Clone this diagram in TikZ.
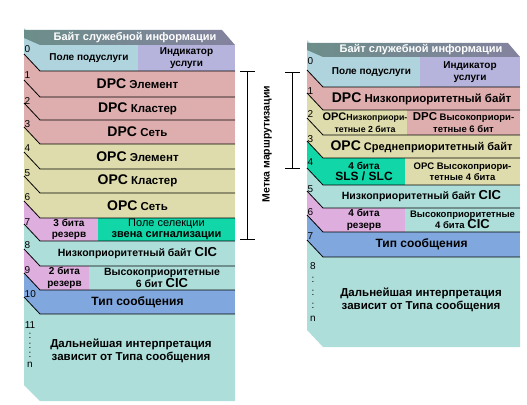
\documentclass[tikz,border=0pt]{standalone}
\usepackage{fontspec}
\setmainfont{Liberation Sans}
\usetikzlibrary{positioning}
\definecolor{hdrA}{HTML}{6C8E8A}
\definecolor{hdrB}{HTML}{84829E}
\definecolor{subsvc}{HTML}{B0D4DE}
\definecolor{indic}{HTML}{B6B4DC}
\definecolor{dpc}{HTML}{DEAEAE}
\definecolor{opc}{HTML}{DEDCAC}
\definecolor{rsv}{HTML}{DEAEDE}
\definecolor{sls}{HTML}{10D6A8}
\definecolor{cic}{HTML}{AEDEDA}
\definecolor{msg}{HTML}{80A8DE}
\newcommand\pc[2][14]{{\fontsize{#1}{#1}\selectfont #2}}

\begin{document}
\begin{tikzpicture}[x=1pt,y=-1pt,
  cell/.style={align=center,inner sep=0pt,text=black},
  num/.style={anchor=north west,inner sep=0.5pt,font=\fontsize{10}{10}\selectfont},
  sep/.style={line width=0.8pt},
  hdr/.style={left color=hdrA,right color=hdrB},
  hdrtext/.style={text=white,font=\bfseries\fontsize{11}{11}\selectfont}]
  \useasboundingbox (0,0) rectangle (527,404);
  \foreach \t/\b/\c in {45/71/subsvc, 71/97/dpc, 97/120/dpc, 120/144/dpc, 144/169/opc, 169/193/opc, 193/218/opc, 218/241/rsv, 241/266/cic, 266/290/rsv, 290/314/msg}
    \fill[\c] (24,\t-17) -- (40,\t) -- (40,\b) -- (24,\b-17) -- cycle;
  \fill[cic] (24,297) -- (40,314) -- (235,314) -- (235,401) -- (40,401) -- (24,385) -- cycle;
  \shade[hdr] (24,30) -- (222,30) -- (235,45) -- (40,45) -- (24,38) -- cycle;
  \node[hdrtext] (lhdr) at (135,38) {Байт служебной информации};
  \foreach \xa/\ya/\xb/\yb/\c/\f/\n/\txt in {
    40/45/138/71/subsvc/10/l0a/Поле подуслуги,
    138/45/235/71/indic/10/l0b/{Индикатор\\услуги},
    40/71/235/97/dpc/11.5/l1/{\pc{DPC} Элемент},
    40/97/235/120/dpc/11.5/l2/{\pc{DPC} Кластер},
    40/120/235/144/dpc/11.5/l3/{\pc{DPC} Сеть},
    40/144/235/169/opc/11.5/l4/{\pc{OPC} Элемент},
    40/169/235/193/opc/11.5/l5/{\pc{OPC} Кластер},
    40/193/235/218/opc/11.5/l6/{\pc{OPC} Сеть},
    40/218/98/241/rsv/10/l7a/{3 бита\\резерв},
    98/218/235/241/sls/11/l7b/{\mdseries Поле селекции\\звена сигнализации},
    40/241/235/266/cic/10.5/l8/{Низкоприоритетный байт \pc[13]{CIC}},
    40/266/89/290/rsv/10/l9a/{2 бита\\резерв},
    89/266/235/290/cic/10.5/l9b/{Высокоприоритетные\\6 бит \pc[13]{CIC}},
    40/290/235/314/msg/12/l10/Тип сообщения}
    \fill[fill=\c] (\xa,\ya) rectangle node[cell,font=\bfseries\fontsize{\f}{11.5}\selectfont] (\n) {\txt} (\xb,\yb);
  \foreach \t in {71,97,120,144,169,193,218,241,266,290,314}
    \draw[sep] (24,\t-17) -- (40,\t) -- (235,\t);
  \foreach \t/\k in {45/0, 71/1, 97/2, 120/3, 144/4, 169/5, 193/6, 218/7, 241/8, 266/9, 290/10}
    \node[num] (ln\k) at (24,\t) {\k};
  \node[num,anchor=north,align=center,font=\fontsize{10}{9.75}\selectfont] (lnn) at (30,321) {11\\:\\:\\:\\n};
  \node[cell,font=\bfseries\fontsize{11.5}{13}\selectfont] (lrest) at (131,351) {Дальнейшая интерпретация\\зависит от Типа сообщения};

  \foreach \t/\b/\c in {57/87/subsvc, 87/110/dpc, 110/135/opc, 135/158/opc, 158/185/sls, 185/208/cic, 208/232/rsv, 232/257/msg}
    \fill[\c] (307,\t-17) -- (323,\t) -- (323,\b) -- (307,\b-17) -- cycle;
  \fill[cic] (307,240) -- (323,257) -- (520,257) -- (520,347) -- (323,347) -- (307,330) -- cycle;
  \shade[hdr] (307,43) -- (508,43) -- (520,57) -- (323,57) -- (307,50) -- cycle;
  \node[hdrtext] (rhdr) at (421,50) {Байт служебной информации};
  \foreach \xa/\ya/\xb/\yb/\c/\f/\n/\txt in {
    323/57/420/87/subsvc/10/r0a/Поле подуслуги,
    420/57/520/87/indic/10/r0b/{Индикатор\\услуги},
    323/87/520/110/dpc/11.5/r1/{\pc{DPC} Низкоприоритетный байт},
    323/110/407/135/opc/8.8/r2a/{\pc[11]{OPC}Низкоприори-\\тетные 2 бита},
    407/110/520/135/dpc/9.5/r2b/{\pc[11.5]{DPC} Высокоприори-\\тетные 6 бит},
    323/135/520/158/opc/11/r3/{\pc{OPC} Среднеприоритетный байт},
    323/158/405/185/sls/10/r4a/{4 бита\\\pc[12]{SLS / SLC}},
    405/158/520/185/opc/9.5/r4b/{OPC Высокоприори-\\тетные 4 бита},
    323/185/520/208/cic/10.5/r5/{Низкоприоритетный байт \pc[13]{CIC}},
    323/208/405/232/rsv/10/r6a/{4 бита\\резерв},
    405/208/520/232/cic/9.5/r6b/{Высокоприоритетные\\4 бита \pc[13]{CIC}},
    323/232/520/257/msg/12/r7/Тип сообщения}
    \fill[fill=\c] (\xa,\ya) rectangle node[cell,font=\bfseries\fontsize{\f}{11.5}\selectfont] (\n) {\txt} (\xb,\yb);
  \foreach \t in {87,110,135,158,185,208,232,257}
    \draw[sep] (307,\t-17) -- (323,\t) -- (520,\t);
  \foreach \t/\k in {57/0, 87/1, 110/2, 135/3, 158/4, 185/5, 208/6, 232/7}
    \node[num] (rn\k) at (307,\t) {\k};
  \node[num,anchor=north,align=center,font=\fontsize{10}{13}\selectfont] (rnn) at (313,262) {8\\:\\:\\:\\n};
  \node[cell,font=\bfseries\fontsize{11.5}{13}\selectfont] (rrest) at (421,300) {Дальнейшая интерпретация\\зависит от Типа сообщения};

  \draw[sep] (240,71) -- (255,71) (247,71) -- (247,239) (240,239) -- (255,239);
  \draw[sep] (285,72) -- (300,72) (292,72) -- (292,168) (285,168) -- (300,168);
  \node[rotate=90,font=\bfseries\fontsize{10.5}{10.5}\selectfont] (route) at (267,144) {Метка маршрутизации};
\end{tikzpicture}
\end{document}
